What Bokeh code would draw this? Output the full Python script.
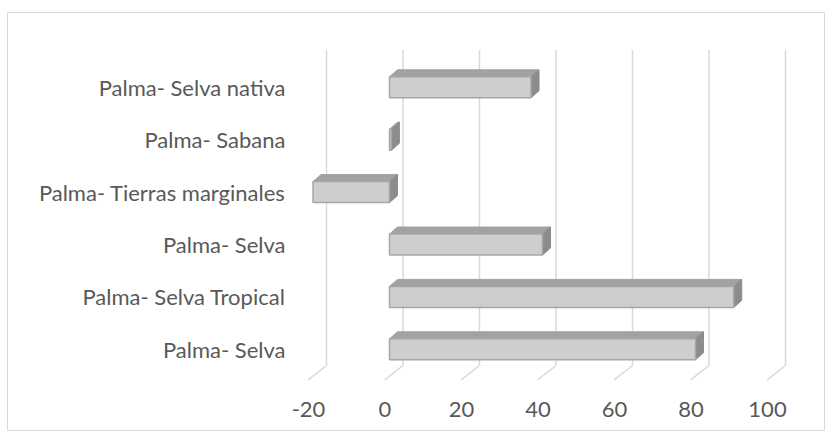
from bokeh.plotting import figure
from bokeh.models import Range1d, FixedTicker, ColumnDataSource
from bokeh.embed import file_html
from bokeh.resources import INLINE

# ---- data (bottom to top) ----
categories = ["Palma- Selva", "Palma- Selva Tropical", "Palma- Selva",
              "Palma- Tierras marginales", "Palma- Sabana", "Palma- Selva nativa"]
values = [80, 90, 40, -20, 0.5, 37]
x_ticks = [-20, 0, 20, 40, 60, 80, 100]
x_tick_labels = ["-20", "0", "20", "40", "60", "80", "100"]

# ---- geometry (data units) ----
PX_X = 3.825          # px per x unit
PX_Y = 52.4           # px per category
depth_dx = 8 / PX_X   # bar depth offset
depth_dy = 7 / PX_Y
back_dx = 13.5 / PX_X  # back wall offset
bar_h = 21 / PX_Y
label_shift = 4.5 / PX_X  # tick labels sit at the front end of the floor lines

p = figure(width=818, height=419, output_backend="svg", toolbar_location=None,
           x_range=Range1d((300 - 389) / PX_X, (810 - 389) / PX_X),
           y_range=Range1d((348.8 - 390) / PX_Y, (348.8 - 40) / PX_Y),
           min_border_left=292, min_border_right=16, min_border_top=27,
           min_border_bottom=42)
p.styles = {"border": "1px solid #d9d9d9"}
p.margin = (12, 0, 0, 7)
p.outline_line_color = None
p.xgrid.visible = False
p.ygrid.visible = False
p.background_fill_color = "white"

# ---- back wall gridlines & floor diagonals ----
grid_top = (348.8 - 49.3) / PX_Y
grid_bot = (348.8 - 365) / PX_Y
floor_dx = 18.3 / PX_X
floor_dy = 14.3 / PX_Y
gx = [t + back_dx for t in x_ticks]
p.segment(x0=gx, y0=[grid_bot] * len(gx), x1=gx, y1=[grid_top] * len(gx),
          line_color="#d9d9d9", line_width=1.5)
p.segment(x0=gx, y0=[grid_bot] * len(gx), x1=[g - floor_dx for g in gx],
          y1=[grid_bot - floor_dy] * len(gx), line_color="#d9d9d9", line_width=1.5)

# ---- 3D bars ----
ys = list(range(len(values)))
lefts = [min(0, v) for v in values]
rights = [max(0, v) for v in values]
top_xs, top_ys, side_xs, side_ys = [], [], [], []
for y, l, r in zip(ys, lefts, rights):
    yt = y + bar_h / 2
    yb = y - bar_h / 2
    top_xs.append([l, l + depth_dx, r + depth_dx, r])
    top_ys.append([yt, yt + depth_dy, yt + depth_dy, yt])
    side_xs.append([r, r + depth_dx, r + depth_dx, r])
    side_ys.append([yt, yt + depth_dy, yb + depth_dy, yb])

p.patches(xs=top_xs, ys=top_ys, fill_color="#a2a2a2", line_color="#a2a2a2", line_width=1)
p.patches(xs=side_xs, ys=side_ys, fill_color="#8c8c8c", line_color="#8c8c8c", line_width=1)
src = ColumnDataSource(dict(y=ys, left=lefts, right=rights))
p.hbar(y="y", left="left", right="right", height=bar_h, source=src,
       fill_color="#cecece", line_color="#a6a6a6", line_width=1.5)

# ---- axes ----
for ax in (p.xaxis[0], p.yaxis[0]):
    ax.axis_line_color = None
    ax.major_tick_line_color = None
    ax.minor_tick_line_color = None
    ax.major_label_text_color = "#595959"
    ax.major_label_text_font = "Lato"
    ax.major_label_text_font_size = "22px"

tick_pos = [t - label_shift for t in x_ticks]
p.xaxis.ticker = FixedTicker(ticks=tick_pos)
p.xaxis.major_label_overrides = {t: s for t, s in zip(tick_pos, x_tick_labels)}
p.xaxis.major_label_standoff = 5
p.yaxis.ticker = FixedTicker(ticks=ys)
p.yaxis.major_label_overrides = {i: c for i, c in enumerate(categories)}
p.yaxis.major_label_standoff = 9

open("out.html", "w").write(file_html(p, INLINE))
